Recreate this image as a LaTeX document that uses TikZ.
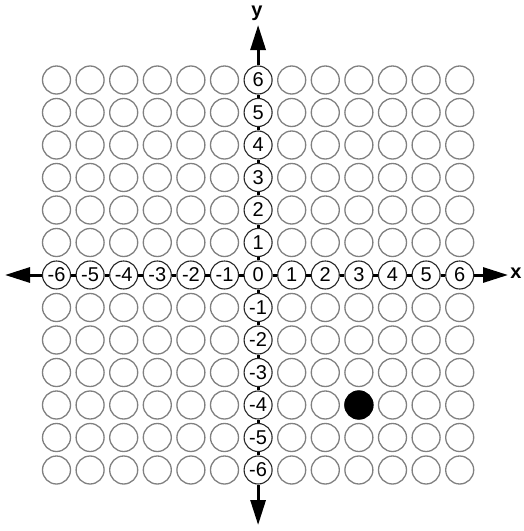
\documentclass[tikz,border=0pt]{standalone}
\usepackage{fontspec}
\setmainfont{Liberation Sans}
\usetikzlibrary{arrows.meta}
\tikzset{
  dot/.style={circle, draw=black!50, line width=1.3pt, minimum size=28pt, inner sep=0pt, fill=white},
  axisdot/.style={dot, draw=black!85, line width=1.1pt, font=\fontsize{20}{20}\selectfont},
  hitdot/.style={dot, draw=black, fill=black},
  axis/.style={line width=3pt},
  axisarrow/.style={axis, -{Triangle[length=25pt,width=15pt]}},
  axislabel/.style={font=\fontsize{20}{20}\selectfont\bfseries, inner sep=0pt},
}

\begin{document}
\begin{tikzpicture}[x=1pt,y=-1pt]
\useasboundingbox (0,0) rectangle (523,531);
% plain circles
\foreach \i in {0,...,12}
  \foreach \j in {0,...,12} {
    \ifnum\i=6 \else \ifnum\j=6 \else
      \node[dot] (g\i-\j) at (56.5+33.6*\i, 80+32.5*\j) {};
    \fi\fi
  }
% the point (3,-4)
\node[hitdot] (pt) at (g9-10) {};
% numbered circles on the axes
\node[axisdot, alias=y0] (x0) at (258.1,275) {0};
\foreach \k in {-6,...,-1,1,2,...,6} {
  \node[axisdot] (x\k) at (258.1+33.6*\k, 275) {\k};
  \node[axisdot] (y\k) at (258.1, 275-32.5*\k) {\k};
}
\foreach \k [evaluate=\k as \n using int(\k+1)] in {-6,...,5} {
  \draw[axis] (x\k) -- (x\n);
  \draw[axis] (y\k) -- (y\n);
}
% arrow ends
\coordinate (xl) at (5,275);
\coordinate (xr) at (508,275);
\coordinate (yt) at (258.1,25);
\coordinate (yb) at (258.1,525);
\draw[axisarrow] (x-6) -- (xl);
\draw[axisarrow] (x6) -- (xr);
\draw[axisarrow] (y6) -- (yt);
\draw[axisarrow] (y-6) -- (yb);
\node[axislabel] (xlab) at (516,273) {x};
\node[axislabel] (ylab) at (257,13) {y};
\end{tikzpicture}
\end{document}
